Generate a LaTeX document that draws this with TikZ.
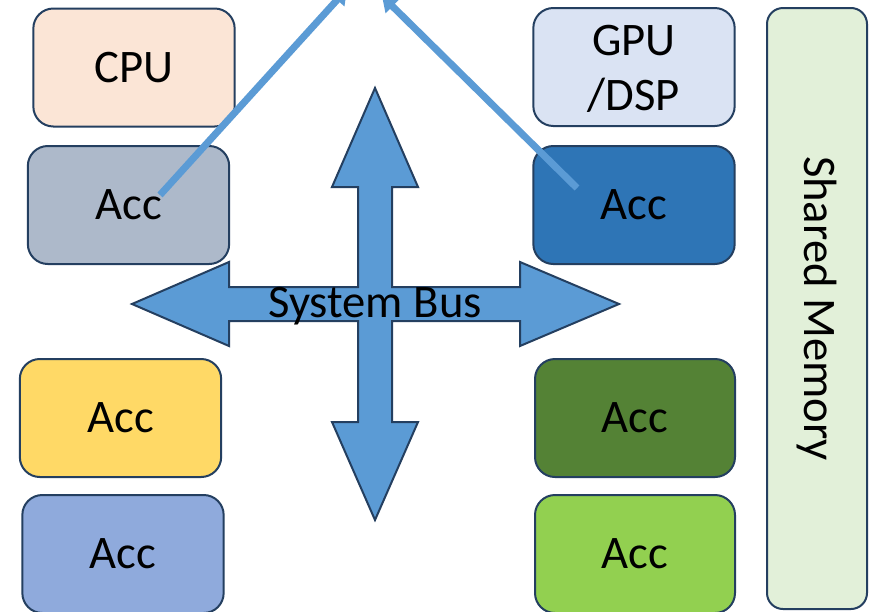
\documentclass[tikz,border=0pt]{standalone}
\usepackage{fontspec}
\setmainfont{Carlito}
\usetikzlibrary{arrows.meta}
\definecolor{bord}{HTML}{243F60}
\definecolor{busblue}{HTML}{5B9BD5}
\definecolor{cpuc}{HTML}{FBE5D6}
\definecolor{grayacc}{HTML}{ADB9CA}
\definecolor{gpuc}{HTML}{DAE3F3}
\definecolor{darkacc}{HTML}{2E75B6}
\definecolor{memc}{HTML}{E2F0D9}
\definecolor{yelacc}{HTML}{FFD966}
\definecolor{lavacc}{HTML}{8FAADC}
\definecolor{dgreen}{HTML}{548235}
\definecolor{lgreen}{HTML}{92D050}
\tikzset{
  unit/.style={draw=bord, line width=1.5pt, rounded corners=15pt,
    minimum width=151pt, minimum height=88.5pt, inner sep=0pt,
    font=\fontsize{35}{41}\selectfont, align=center},
  link/.style={draw=busblue, line width=5.25pt, -{Triangle[width=14pt,length=11pt]}},
}
\begin{document}
\begin{tikzpicture}[x=0.75pt,y=-0.75pt]
\clip (0,0) rectangle (874,611);
\fill[white] (0,0) rectangle (874,611);
% boxes
\node[unit, fill=cpuc] (cpu) at (134,67.5) {CPU};
\node[unit, fill=grayacc] (acc1) at (128.5,205) {Acc};
\node[unit, fill=gpuc] (gpu) at (634,67) {};
\node[font=\fontsize{35}{41}\selectfont, align=center] (gputxt) at (634,69) {GPU\\/DSP};
\node[unit, fill=darkacc] (acc2) at (634,205) {Acc};
\node[unit, fill=yelacc] (acc3) at (120.5,418) {Acc};
\node[unit, fill=lavacc] (acc4) at (123,554) {Acc};
\node[unit, fill=dgreen, minimum width=150pt] (acc5) at (635,418) {Acc};
\node[unit, fill=lgreen, minimum width=150pt] (acc6) at (635,554) {Acc};
\node[unit, fill=memc, rounded corners=12pt, minimum width=75pt, minimum height=450.75pt] (mem) at (817,308.5) {};
\node[rotate=-90, font=\fontsize{35}{41}\selectfont] (memtxt) at (mem.center) {Shared Memory};
% system bus cross
\draw[draw=bord, line width=1.5pt, fill=busblue, line join=miter]
  (375,88) -- (418,187) -- (392,187) -- (392,287) -- (520,287) -- (520,262)
  -- (619,304) -- (520,346) -- (520,321) -- (392,321) -- (392,422) -- (418,422)
  -- (375,520) -- (332,422) -- (358,422) -- (358,321) -- (229,321) -- (229,346)
  -- (132,304) -- (229,262) -- (229,287) -- (358,287) -- (358,187) -- (332,187) -- cycle;
\node[font=\fontsize{35}{41}\selectfont] (bus) at (375,306) {System Bus};
% links going up
\coordinate (s1) at (160,195);
\coordinate (t1) at (347,-11);
\coordinate (s2) at (577,188);
\coordinate (t2) at (382,-4);
\draw[link] (s1) -- (t1);
\draw[link] (s2) -- (t2);
\end{tikzpicture}
\end{document}
